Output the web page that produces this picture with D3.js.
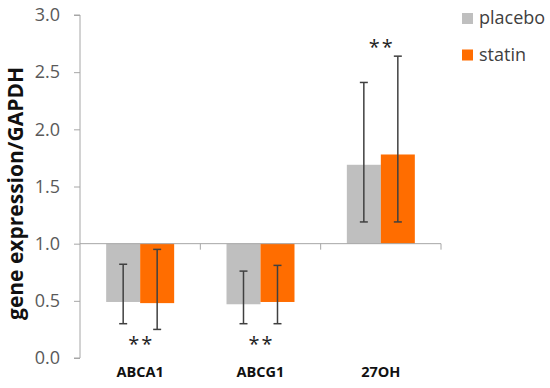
<!DOCTYPE html>
<html>
<head>
<meta charset="utf-8">
<script src="https://cdn.jsdelivr.net/npm/d3@7"></script>
<style>
  body { margin: 0; background: #fff; }
  text { font-family: "Open Sans", "DejaVu Sans", sans-serif; }
</style>
</head>
<body>
<div id="chart"></div>
<script>
// data
var categories = ["ABCA1", "ABCG1", "27OH"];
var seriesNames = ["placebo", "statin"];
var placebo = [0.49, 0.47, 1.69];
var statin = [0.48, 0.49, 1.78];
var placeboLow = [0.30, 0.30, 1.19];
var placeboHigh = [0.82, 0.76, 2.41];
var statinLow = [0.25, 0.30, 1.19];
var statinHigh = [0.95, 0.81, 2.64];
var stars = ["**", "**", "**"];
var starLevel = [0.17, 0.17, 2.76];
var yTicks = [0, 0.5, 1, 1.5, 2, 2.5, 3];
var colours = ["#bfbfbf", "#ff6d00"];

var width = 550, height = 388;
var margin = {left: 80, top: 15, right: 109, bottom: 30};

var svg = d3.select("#chart").append("svg")
  .attr("width", width)
  .attr("height", height);

var y = d3.scaleLinear().domain([0, 3]).range([358, 15]);
var x = d3.scaleBand().domain(categories)
  .range([margin.left, width - margin.right])
  .paddingInner(0.435).paddingOuter(0.2175);
var xs = d3.scaleBand().domain(seriesNames).range([0, x.bandwidth()]);

var rows = categories.map(function (c, i) {
  return {
    cat: c,
    bars: [
      {s: "placebo", v: placebo[i], lo: placeboLow[i], hi: placeboHigh[i]},
      {s: "statin", v: statin[i], lo: statinLow[i], hi: statinHigh[i]}
    ]
  };
});

// y axis
var yAxis = svg.append("g")
  .attr("transform", "translate(" + margin.left + ",0)")
  .call(d3.axisLeft(y).tickValues(yTicks).tickFormat(d3.format(".1f")).tickSize(6).tickPadding(14));
yAxis.select(".domain").attr("stroke", "#a6a6a6").attr("d", "M-6," + y(3) + "H0V" + y(0) + "H-6");
yAxis.selectAll(".tick line").attr("stroke", "#a6a6a6");
yAxis.selectAll(".tick text").attr("fill", "#595959").style("font-size", "18px");

// bars from baseline 1.0
var groups = svg.selectAll(".grp").data(rows).enter().append("g")
  .attr("class", "grp")
  .attr("transform", function (d) { return "translate(" + x(d.cat) + ",0)"; });

groups.selectAll("rect").data(function (d) { return d.bars; }).enter().append("rect")
  .attr("x", function (d) { return xs(d.s); })
  .attr("width", xs.bandwidth())
  .attr("y", function (d) { return y(Math.max(d.v, 1)); })
  .attr("height", function (d) { return Math.abs(y(d.v) - y(1)); })
  .attr("fill", function (d, i) { return colours[i]; });

// category axis sitting at 1.0
var xAxis = svg.append("g")
  .attr("transform", "translate(0," + y(1) + ")");
xAxis.append("line")
  .attr("x1", margin.left).attr("x2", width - margin.right)
  .attr("stroke", "#a6a6a6");
var bounds = categories.map(function (c) { return x(c) + x.bandwidth() + x.step() * x.paddingInner() / 2; });
xAxis.selectAll(".sep").data(bounds).enter().append("line")
  .attr("x1", function (d) { return d; }).attr("x2", function (d) { return d; })
  .attr("y1", 0).attr("y2", 6)
  .attr("stroke", "#a6a6a6");

// error bars
var err = groups.selectAll(".err").data(function (d) { return d.bars; }).enter().append("g")
  .attr("class", "err")
  .attr("stroke", "#404040").attr("stroke-width", 1.5);
err.append("line")
  .attr("x1", function (d) { return xs(d.s) + xs.bandwidth() / 2; })
  .attr("x2", function (d) { return xs(d.s) + xs.bandwidth() / 2; })
  .attr("y1", function (d) { return y(d.lo); })
  .attr("y2", function (d) { return y(d.hi); });
["lo", "hi"].forEach(function (k) {
  err.append("line")
    .attr("x1", function (d) { return xs(d.s) + xs.bandwidth() / 2 - 4; })
    .attr("x2", function (d) { return xs(d.s) + xs.bandwidth() / 2 + 4; })
    .attr("y1", function (d) { return y(d[k]); })
    .attr("y2", function (d) { return y(d[k]); });
});

// significance stars
svg.selectAll(".star").data(categories).enter().append("text")
  .attr("x", function (c) { return x(c) + x.bandwidth() / 2 + 1; })
  .attr("y", function (c, i) { return y(starLevel[i]) + 12; })
  .attr("text-anchor", "middle")
  .style("font-size", "20px").style("letter-spacing", "2px")
  .attr("fill", "#222")
  .text(function (c, i) { return stars[i]; });

// category labels
svg.selectAll(".cat").data(categories).enter().append("text")
  .attr("x", function (c) { return x(c) + x.bandwidth() / 2; })
  .attr("y", 377)
  .attr("text-anchor", "middle")
  .style("font-size", "14.5px").style("font-weight", "bold")
  .attr("fill", "#111")
  .text(function (c) { return c; });

// y title
svg.append("text")
  .attr("transform", "translate(23,193.5) rotate(-90)")
  .attr("text-anchor", "middle")
  .style("font-size", "21px").style("font-weight", "bold")
  .attr("fill", "#111")
  .text("gene expression/GAPDH");

// legend
var legend = svg.selectAll(".leg").data(seriesNames).enter().append("g")
  .attr("transform", function (d, i) { return "translate(462," + (13 + i * 36.5) + ")"; });
legend.append("rect")
  .attr("width", 11).attr("height", 11)
  .attr("fill", function (d, i) { return colours[i]; });
legend.append("text")
  .attr("x", 17).attr("y", 11)
  .style("font-size", "18px")
  .attr("fill", "#404040")
  .text(function (d) { return d; });
</script>
</body>
</html>
